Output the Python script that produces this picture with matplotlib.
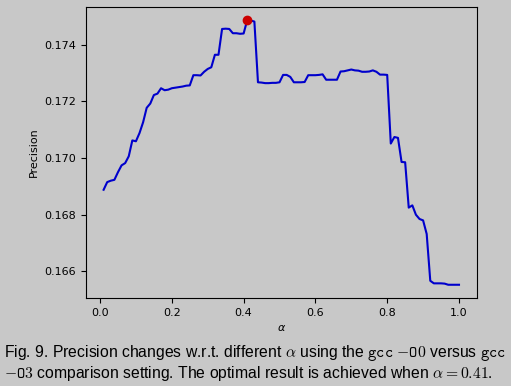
import matplotlib
matplotlib.use("Agg")
import matplotlib.pyplot as plt

# alpha values 0.01 .. 1.00
alpha = [i / 100 for i in range(1, 101)]

precision = [
    0.16888, 0.16915, 0.16920, 0.16923, 0.16950, 0.16974, 0.16982, 0.17006, 0.17062, 0.17059,
    0.17088, 0.17126, 0.17177, 0.17192, 0.17222, 0.17227, 0.17246, 0.17239, 0.17241, 0.17246,
    0.17248, 0.17250, 0.17252, 0.17255, 0.17256, 0.17292, 0.17292, 0.17291, 0.17304, 0.17314,
    0.17320, 0.17364, 0.17364, 0.17455, 0.17456, 0.17455, 0.17440, 0.17440, 0.17438, 0.17439,
    0.17486, 0.17485, 0.17481, 0.17267, 0.17266, 0.17264, 0.17264, 0.17265, 0.17265, 0.17267,
    0.17293, 0.17293, 0.17286, 0.17267, 0.17267, 0.17267, 0.17268, 0.17292, 0.17292, 0.17292,
    0.17293, 0.17295, 0.17276, 0.17276, 0.17276, 0.17276, 0.17305, 0.17306, 0.17309, 0.17312,
    0.17309, 0.17308, 0.17304, 0.17304, 0.17305, 0.17309, 0.17304, 0.17294, 0.17294, 0.17293,
    0.17051, 0.17074, 0.17071, 0.16986, 0.16985, 0.16825, 0.16833, 0.16800, 0.16785, 0.16780,
    0.16732, 0.16567, 0.16558, 0.16558, 0.16558, 0.16557, 0.16553, 0.16553, 0.16553, 0.16553,
]

best_alpha = 0.41
best_precision = 0.17486

bg = "#c8c8c8"

fig = plt.figure(figsize=(5.11, 3.86), dpi=100, facecolor=bg)
ax = fig.add_axes([0.168, 0.228, 0.765, 0.754], facecolor=bg)

ax.plot(alpha, precision, color="#0000cc", linewidth=1.5)
ax.plot(best_alpha, best_precision, "o", color="#cc0000", markersize=6)

ax.set_xticks([0.0, 0.2, 0.4, 0.6, 0.8, 1.0])
ax.set_yticks([0.166, 0.168, 0.170, 0.172, 0.174])
ax.tick_params(labelsize=8)
ax.set_xlabel(r"$\alpha$", fontsize=8)
ax.set_ylabel("Precision", fontsize=8)

cap_font = "Liberation Sans"
fig.text(0.008, 0.085,
         r"Fig. 9. Precision changes w.r.t. different $\alpha$ using the $\mathtt{gcc}$ $\mathtt{-O0}$ versus $\mathtt{gcc}$",
         fontsize=11.3, family=cap_font, math_fontfamily="cm", ha="left", va="center")
fig.text(0.008, 0.033,
         r"$\mathtt{-O3}$ comparison setting. The optimal result is achieved when $\alpha = 0.41$.",
         fontsize=11.3, family=cap_font, math_fontfamily="cm", ha="left", va="center")

fig.savefig("out.png", dpi=100, facecolor=bg)
